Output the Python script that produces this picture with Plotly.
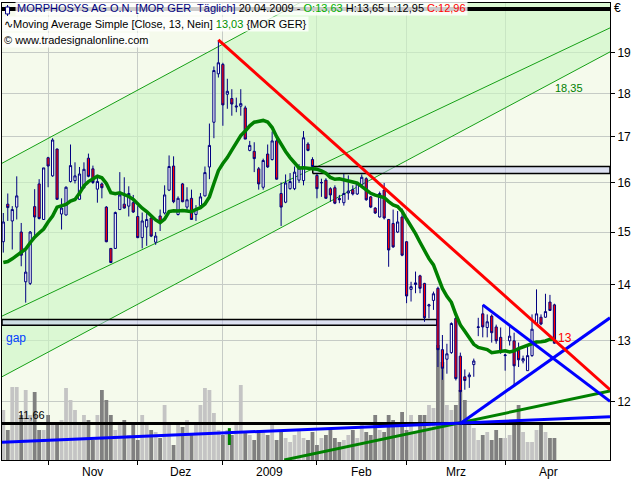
import math
import pandas as pd
import plotly.graph_objects as go

# ---- daily bars, index 0 = 20.10.2008 ... 123 = 20.04.2009 (MOR GER) ----
opens = [14.81, 15.56, 15.22, 15.50, 15.00, 14.05, 14.02, 15.51, 15.98, 15.25,
         16.54, 16.15, 16.73, 15.36, 15.34, 16.03, 16.05, 15.66, 15.90, 16.53,
         16.30, 15.87, 15.98, 15.50, 14.68, 14.68, 15.45, 15.56, 15.52, 15.59,
         15.31, 14.89, 15.10, 15.28, 14.80, 15.32, 15.38, 15.85, 16.36, 15.35,
         15.98, 15.50, 15.68, 15.35, 15.53, 15.73, 16.34, 17.33, 18.47, 18.70,
         17.98, 17.88, 17.68, 17.70, 17.66, 16.70, 16.68, 16.30, 15.91, 16.62,
         16.50, 16.91, 15.78, 15.60, 15.88, 15.88, 16.06, 16.05, 16.84, 16.50,
         16.16, 16.00, 16.06, 15.88, 15.90, 15.68, 15.59, 15.79, 15.86, 15.77,
         15.96, 16.09, 15.71, 15.48, 15.30, 15.85, 15.25, 15.17, 15.00, 15.30,
         14.81, 13.91, 14.00, 14.16, 14.02, 13.61, 13.71, 13.93, 12.85, 12.69,
         12.80, 13.39, 12.74, 12.40, 12.40, 12.60, 13.23, 13.47, 13.23, 13.43,
         13.24, 13.06, 12.75, 13.00, 13.00, 12.84, 12.66, 12.50, 12.75, 13.30,
         13.41, 13.41, 13.68, 13.63]
highs = [15.38, 15.78, 15.52, 16.14, 15.18, 14.66, 15.02, 15.87, 16.08, 16.32,
         16.56, 16.97, 16.74, 15.68, 15.93, 16.83, 16.44, 16.34, 16.44, 16.63,
         16.37, 16.16, 16.01, 15.52, 14.68, 15.41, 16.23, 16.12, 15.93, 15.75,
         15.52, 15.39, 15.39, 15.33, 15.00, 15.45, 15.95, 16.59, 16.57, 15.72,
         16.00, 15.91, 15.86, 15.54, 15.79, 16.35, 17.30, 18.65, 19.31, 18.74,
         18.35, 18.10, 17.90, 18.10, 17.71, 16.91, 16.88, 16.34, 16.52, 16.83,
         17.12, 16.98, 16.01, 16.18, 16.21, 16.35, 16.40, 17.13, 16.88, 16.55,
         16.19, 16.09, 16.10, 15.91, 15.95, 15.75, 16.19, 16.16, 15.95, 16.01,
         16.18, 16.12, 15.73, 15.50, 15.82, 16.00, 15.26, 15.45, 15.42, 15.47,
         14.82, 14.05, 14.24, 14.18, 14.03, 13.65, 13.87, 13.96, 13.10, 12.95,
         13.32, 13.45, 12.80, 12.52, 12.47, 12.70, 13.40, 13.63, 13.46, 13.46,
         13.28, 13.23, 12.78, 13.25, 13.14, 12.97, 12.75, 12.90, 13.46, 13.91,
         13.46, 13.83, 13.81, 13.65]
lows = [14.60, 15.22, 14.66, 15.25, 14.34, 13.67, 13.99, 14.93, 15.25, 15.24,
        15.91, 16.13, 15.65, 15.05, 15.33, 16.01, 15.99, 15.65, 15.88, 16.12,
        15.98, 15.59, 15.68, 14.80, 14.40, 14.67, 15.44, 15.47, 15.31, 15.38,
        14.88, 14.68, 14.73, 14.90, 14.75, 15.02, 15.35, 15.83, 15.58, 15.33,
        15.60, 15.42, 15.24, 15.22, 15.52, 15.72, 16.08, 16.97, 18.38, 17.25,
        17.64, 17.48, 17.56, 17.48, 16.95, 16.68, 16.23, 15.86, 15.86, 16.32,
        16.48, 16.07, 15.12, 15.58, 15.86, 15.85, 16.00, 15.95, 16.68, 16.33,
        15.68, 15.71, 15.68, 15.61, 15.56, 15.58, 15.53, 15.65, 15.74, 15.75,
        15.94, 15.63, 15.48, 15.36, 15.29, 15.25, 14.33, 14.69, 14.98, 14.53,
        13.66, 13.69, 13.84, 13.84, 13.33, 13.39, 13.54, 12.56, 12.35, 12.45,
        12.78, 12.34, 11.66, 12.19, 12.22, 12.40, 13.08, 13.06, 13.06, 12.97,
        12.95, 12.78, 12.50, 12.92, 12.26, 12.56, 12.62, 12.50, 12.73, 13.29,
        13.27, 13.40, 13.52, 12.95]
closes = [15.20, 15.49, 15.45, 15.73, 14.55, 14.23, 15.00, 15.30, 15.27, 16.32,
          16.36, 16.93, 15.66, 15.48, 15.91, 16.37, 16.15, 16.19, 16.29, 16.14,
          16.01, 16.03, 15.90, 14.81, 14.41, 15.39, 15.75, 15.48, 15.78, 15.40,
          14.89, 15.22, 15.25, 14.92, 14.92, 15.20, 15.75, 16.35, 15.61, 15.68,
          15.61, 15.65, 15.25, 15.46, 15.71, 16.22, 16.81, 18.55, 18.74, 17.73,
          18.05, 17.75, 17.70, 17.76, 16.95, 16.81, 16.52, 15.98, 16.48, 16.34,
          16.91, 16.08, 15.50, 16.00, 16.03, 16.23, 16.32, 16.98, 16.70, 16.35,
          15.88, 16.01, 15.68, 15.75, 15.58, 15.65, 15.78, 15.83, 15.77, 15.98,
          16.12, 15.65, 15.50, 15.38, 15.78, 15.28, 14.65, 14.71, 15.20, 14.55,
          13.79, 13.96, 14.03, 13.93, 13.40, 13.63, 13.83, 12.85, 12.54, 12.78,
          13.30, 12.37, 12.16, 12.34, 12.43, 12.66, 13.24, 13.24, 13.33, 13.14,
          13.00, 12.81, 12.76, 13.08, 12.58, 12.68, 12.70, 12.75, 13.20, 13.47,
          13.29, 13.51, 13.53, 12.96]
# volume in thousand shares
volumes = [200, 120, 292, 292, 180, 280, 180, 272, 120, 120,
           180, 152, 140, 160, 288, 240, 200, 140, 180, 160,
           80, 180, 280, 240, 180, 120, 140, 160, 100, 140,
           80, 180, 148, 120, 112, 88, 220, 140, 60, 140,
           132, 160, 100, 140, 220, 288, 280, 188, 120, 100,
           120, 100, 152, 300, 112, 100, 80, 120, 112, 100,
           140, 80, 112, 88, 72, 100, 120, 88, 80, 112,
           60, 88, 100, 120, 88, 72, 80, 100, 120, 88,
           140, 112, 100, 180, 120, 112, 180, 160, 140, 192,
           120, 180, 112, 180, 180, 220, 208, 460, 392, 220,
           200, 220, 280, 240, 152, 128, 80, 100, 112, 80,
           120, 88, 88, 100, 160, 220, 112, 72, 72, 120,
           140, 112, 88, 88]
# SMA(13) values of the first 12 bars (older closes not shown)
ma_lead = [14.41, 14.43, 14.48, 14.55, 14.60, 14.67, 14.79, 14.90, 14.98, 15.06, 15.20, 15.32]

month_start_idx = [10, 30, 49, 70, 90, 112]
month_label_pos = [20, 39.5, 59.5, 80, 101, 121.7]
month_labels = ["Nov", "Dez", "2009", "Feb", "Mrz", "Apr"]
price_ticks = [12, 13, 14, 15, 16, 17, 18, 19]

# drawing tools (bar index, price)
x_left, x_right = -0.29, 135.4
chan_upper = [(x_left, 16.42), (x_right, 25.27)]
chan_mid = [(x_left, 13.43), (x_right, 19.62)]
chan_lower = [(x_left, 12.40), (x_right, 19.01)]
red_trend = [(48, 19.31), (x_right, 12.19)]
blue_flat = [(x_left, 11.376), (x_right, 11.766)]
blue_up = [(102, 11.66), (x_right, 13.40)]
blue_down = [(107, 13.63), (x_right, 12.005)]
green_up = [(62.7, 11.115), (x_right, 12.17)]
green_tick = [(50.45, 11.336), (50.45, 11.59)]
support_level = 11.66
top_level = 20.11
gap_box_upper = (69.06, x_right, 16.20, 16.35)
gap_box_lower = (x_left, 96.74, 13.27, 13.37)
chan_label_value = "18,35"

n = len(closes)
idx = list(range(n))
ma13 = pd.Series(closes).rolling(13).mean().tolist()
ma13[:12] = ma_lead

vol_colors = ["#808080" if c < o else "#c4c4c4" for o, c in zip(opens, closes)]

FONT = "Liberation Sans"
PRICE_RANGE = [1.04588, 1.30691]
fig = go.Figure()

def seg(pts, color, width, yaxis="y4"):
    fig.add_trace(go.Scatter(x=[p[0] for p in pts], y=[p[1] for p in pts], mode="lines",
                             yaxis=yaxis, line=dict(color=color, width=width),
                             hoverinfo="skip"))

# --- layer 1 (base price axis): channel, gap boxes
fig.add_trace(go.Scatter(
    x=[chan_upper[0][0], chan_upper[1][0], chan_lower[1][0], chan_lower[0][0]],
    y=[chan_upper[0][1], chan_upper[1][1], chan_lower[1][1], chan_lower[0][1]],
    fill="toself", fillcolor="rgba(203,247,196,0.62)", mode="lines", line=dict(width=0),
    yaxis="y", hoverinfo="skip"))
for ln in (chan_upper, chan_mid, chan_lower):
    seg(ln, "#16a016", 1, yaxis="y")
for (x0, x1, y0, y1) in (gap_box_upper, gap_box_lower):
    fig.add_trace(go.Scatter(x=[x0, x1, x1, x0, x0], y=[y0, y0, y1, y1, y0],
                             fill="toself", fillcolor="rgba(196,198,245,0.5)",
                             mode="lines", line=dict(color="black", width=1.5),
                             yaxis="y", hoverinfo="skip"))

# --- layer 2: volume
fig.add_trace(go.Bar(x=idx, y=volumes, marker=dict(color=vol_colors, line=dict(width=0)),
                     width=0.85, yaxis="y2", hoverinfo="skip"))

# --- layer 3: candles
fig.add_trace(go.Candlestick(
    x=idx, open=opens, high=highs, low=lows, close=closes, yaxis="y3",
    whiskerwidth=0,
    increasing=dict(line=dict(color="#000080", width=1), fillcolor="white"),
    decreasing=dict(line=dict(color="#000080", width=1), fillcolor="#ff0000"),
    hoverinfo="skip"))

# --- layer 4: indicator and drawings
seg([(x_left, top_level), (x_right, top_level)], "black", 4)
seg([(x_left, support_level), (x_right, support_level)], "black", 3)
fig.add_trace(go.Scatter(x=idx, y=ma13, mode="lines", yaxis="y4",
                         line=dict(color="#008000", width=3.5), hoverinfo="skip"))
seg(green_up, "#008000", 3)
seg(green_tick, "#008000", 3)
seg(blue_flat, "#0000ff", 3)
seg(blue_up, "#0000ff", 3)
seg(blue_down, "#0000ff", 3)
seg(red_trend, "#ff0000", 3)

L = math.log10
ann = []
ann.append(dict(x=2.8, y=L(support_level), xref="x", yref="y", text="11,66",
                showarrow=False, xanchor="left", yanchor="bottom", yshift=1,
                font=dict(family=FONT, size=11, color="black")))
ann.append(dict(x=0.05, y=L(13.05), xref="x", yref="y", text="gap",
                showarrow=False, xanchor="left", yanchor="middle",
                font=dict(family=FONT, size=12, color="#0040ff")))
ann.append(dict(x=123.4, y=L(13.05), xref="x", yref="y", text="13",
                showarrow=False, xanchor="left", yanchor="middle",
                font=dict(family=FONT, size=12, color="#ff0000")))
ann.append(dict(x=122.7, y=L(18.13), xref="x", yref="y", text=chan_label_value,
                showarrow=False, xanchor="left", yanchor="middle",
                font=dict(family=FONT, size=11, color="#008000")))
for pos, lab in zip(month_label_pos, month_labels):
    ann.append(dict(x=pos, y=0, xref="x", yref="paper", text=lab, showarrow=False,
                    xanchor="center", yanchor="top", yshift=-3,
                    font=dict(family=FONT, size=12, color="black")))
ann.append(dict(x=1.004, y=0.99, xref="paper", yref="paper", text="€", showarrow=False,
                xanchor="left", yanchor="middle", font=dict(family=FONT, size=12, color="black")))

head_font = dict(family=FONT, size=11, color="black")
line1 = ("<span style='color:#000080'>MORPHOSYS AG O.N. [MOR GER\u00a0 Täglich]</span> "
         "20.04.2009 - <span style='color:#00b000'>O:13,63</span> H:13,65 L:12,95 "
         "<span style='color:#ff0000'>C:12,96</span>")
line2 = "\u223fMoving Average Simple [Close, 13, Nein] <span style='color:#009000'>13,03</span> {MOR GER}"
line3 = "© www.tradesignalonline.com"
ann.append(dict(x=0.0215, y=0.9895, xref="paper", yref="paper", text=line1, showarrow=False,
                xanchor="left", yanchor="middle", font=head_font,
                bgcolor="rgba(255,255,255,0.8)", borderpad=1))
ann.append(dict(x=0.0, y=0.9545, xref="paper", yref="paper", text=line2, showarrow=False,
                xanchor="left", yanchor="middle", font=head_font,
                bgcolor="rgba(255,255,255,0.8)", borderpad=1))
ann.append(dict(x=0.0, y=0.918, xref="paper", yref="paper", text=line3, showarrow=False,
                xanchor="left", yanchor="middle", font=head_font,
                bgcolor="rgba(255,255,255,0.8)", borderpad=1))

shapes = [
    dict(type="line", xref="paper", yref="paper", x0=0.0091, x1=0.0091, y0=0.9956, y1=0.9716,
         line=dict(color="#000080", width=1)),
    dict(type="rect", xref="paper", yref="paper", x0=0.0058, x1=0.0124, y0=0.9912, y1=0.9760,
         line=dict(color="#000080", width=1), fillcolor="white"),
]

hidden_price = dict(type="log", range=PRICE_RANGE, overlaying="y", visible=False,
                    fixedrange=True)
fig.update_layout(
    width=640, height=480, margin=dict(l=2, r=30, t=3, b=20),
    paper_bgcolor="white", plot_bgcolor="#f5faec",
    showlegend=False, annotations=ann, shapes=shapes,
    xaxis=dict(range=[x_left, x_right], tickvals=month_start_idx,
               ticktext=[""] * len(month_start_idx), ticks="outside", ticklen=4,
               tickcolor="black", showgrid=True, gridcolor="#c6cbc6", gridwidth=1,
               showline=True, linecolor="black", linewidth=1, mirror=True,
               zeroline=False, rangeslider=dict(visible=False), fixedrange=True),
    yaxis=dict(type="log", range=PRICE_RANGE, side="right",
               tickvals=price_ticks, ticktext=[str(t) for t in price_ticks],
               ticks="outside", ticklen=4, tickcolor="black",
               tickfont=dict(family=FONT, size=12, color="black"),
               showgrid=True, gridcolor="#c6cbc6", gridwidth=1,
               showline=True, linecolor="black", linewidth=1, mirror=True,
               zeroline=False, fixedrange=True),
    yaxis2=dict(range=[0, 1828], overlaying="y", visible=False, fixedrange=True),
    yaxis3=hidden_price,
    yaxis4=hidden_price,
)

fig.write_html("out.html", config={"displayModeBar": False, "staticPlot": True},
               post_script="document.body.style.margin='0';document.body.style.padding='0';")
